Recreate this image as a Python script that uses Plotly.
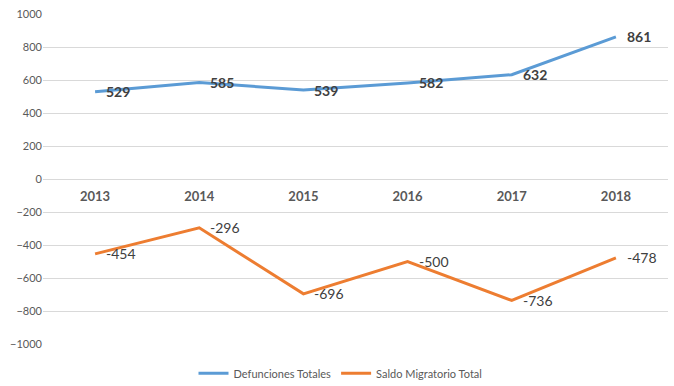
import plotly.graph_objects as go

years = ["2013", "2014", "2015", "2016", "2017", "2018"]
defunciones = [529, 585, 539, 582, 632, 861]
saldo = [-454, -296, -696, -500, -736, -478]
y_ticks = [-1000, -800, -600, -400, -200, 0, 200, 400, 600, 800, 1000]

FONT = "Lato, 'Open Sans', Arial, sans-serif"

fig = go.Figure()
fig.add_trace(go.Scatter(
    x=years, y=defunciones, mode="lines", name="Defunciones Totales",
    line=dict(color="#5B9BD5", width=3),
))
fig.add_trace(go.Scatter(
    x=years, y=saldo, mode="lines", name="Saldo Migratorio Total",
    line=dict(color="#ED7D31", width=3),
))

for i, v in enumerate(defunciones):
    fig.add_annotation(x=i, y=v, text=str(v), showarrow=False, xanchor="left",
                       yanchor="middle", xshift=9,
                       font=dict(family=FONT, size=14, color="#404040", weight="bold"))
for i, v in enumerate(saldo):
    fig.add_annotation(x=i, y=v, text=str(v), showarrow=False, xanchor="left",
                       yanchor="middle", xshift=9,
                       font=dict(family=FONT, size=14, color="#404040"))

fig.update_layout(
    width=674, height=386,
    margin=dict(l=43, r=6, t=14, b=42, autoexpand=False),
    paper_bgcolor="white", plot_bgcolor="white",
    font=dict(family=FONT, size=11, color="#595959"),
    showlegend=True,
    legend=dict(orientation="h", x=0.476, xanchor="center", y=-0.045, yanchor="top",
                font=dict(size=11, color="#595959")),
    xaxis=dict(
        type="category", anchor="free", position=0.5, range=[-0.5, 5.5],
        showgrid=False, showline=False, zeroline=False, ticks="",
        tickfont=dict(family=FONT, size=13, color="#595959", weight="bold"),
        ticklabelstandoff=8, automargin=False,
    ),
    yaxis=dict(
        range=[-1000, 1000], tickvals=y_ticks,
        showgrid=True, gridcolor="#D9D9D9", gridwidth=1,
        zeroline=False, showline=False, ticks="", automargin=False,
        tickfont=dict(family=FONT, size=11, color="#595959"),
    ),
)

fig.write_html("out.html", config={"displayModeBar": False},
               post_script="document.body.style.margin='0';")
